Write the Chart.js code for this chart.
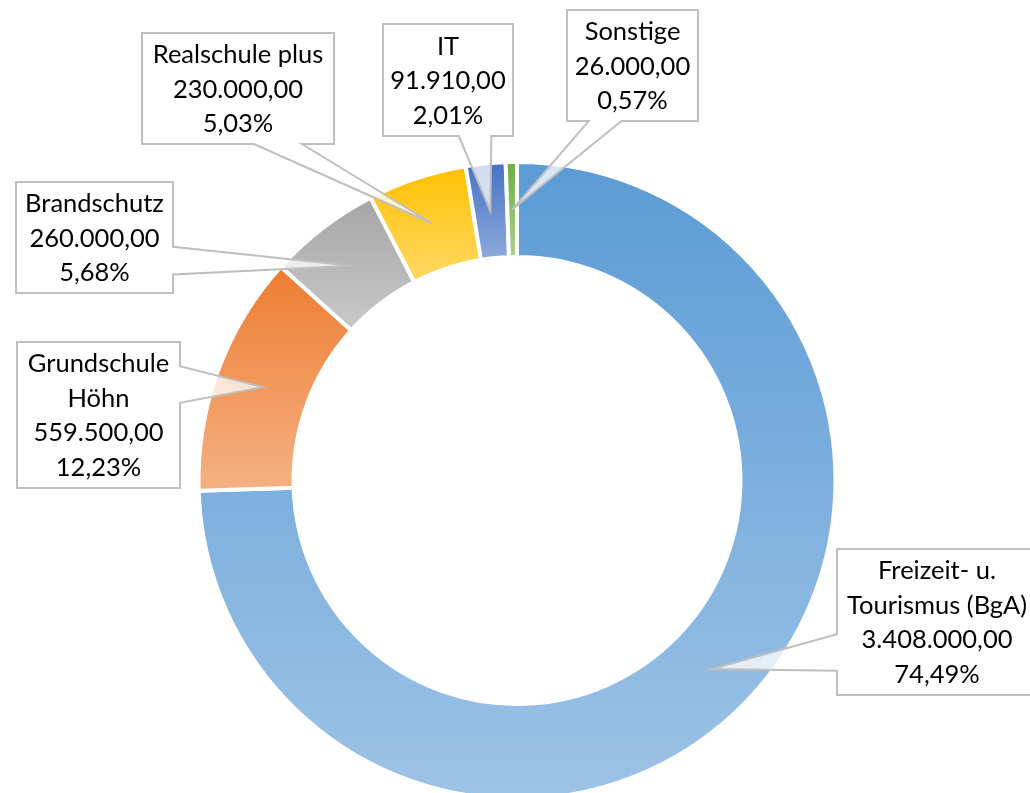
<!DOCTYPE html>
<html>
<head>
<meta charset="utf-8">
<script src="https://cdn.jsdelivr.net/npm/chart.js@4.4.0/dist/chart.umd.min.js"></script>
<style>
  html, body { margin: 0; padding: 0; background: #fff; overflow: hidden; }
  #wrap { width: 1030px; height: 805px; }
</style>
</head>
<body>
<div id="wrap"><canvas id="chart"></canvas></div>
<script>
// Data
const categories = [
  ['Freizeit- u.', 'Tourismus (BgA)'],
  ['Grundschule', 'Höhn'],
  ['Brandschutz'],
  ['Realschule plus'],
  ['IT'],
  ['Sonstige']
];
const values = [3408000, 559500, 260000, 230000, 91910, 26000];
const topColors = ['#5B9BD5', '#ED7D31', '#A5A5A5', '#FFC000', '#4472C4', '#70AD47'];
const bottomColors = ['#9DC3E6', '#F4B183', '#C9C9C9', '#FFD966', '#8FAADC', '#A9D18E'];

// callout boxes (canvas px), same order as the data
const boxes = [
  { x: 837, y: 549, w: 200, h: 146 },
  { x: 17, y: 342, w: 163, h: 146 },
  { x: 16, y: 182, w: 157, h: 111 },
  { x: 142, y: 33, w: 192, h: 111 },
  { x: 383, y: 24, w: 130, h: 112 },
  { x: 567, y: 10, w: 131, h: 111 }
];

const total = values.reduce((a, b) => a + b, 0);

function formatDe(v) {
  const parts = v.toFixed(2).split('.');
  return parts[0].replace(/\B(?=(\d{3})+(?!\d))/g, '.') + ',' + parts[1];
}
function pctDe(v) {
  return (v / total * 100).toFixed(2).replace('.', ',') + '%';
}

// vertical gradient over each segment's own extent
function segmentFill(c) {
  const i = c.dataIndex;
  const chart = c.chart;
  const area = chart.chartArea;
  const ctrl = chart.getDatasetMeta(0).controller;
  if (!area || !ctrl || !ctrl.outerRadius) return topColors[i];
  let before = 0;
  for (let k = 0; k < i; k++) before += values[k];
  const a0 = -Math.PI / 2 + 2 * Math.PI * before / total;
  const a1 = a0 + 2 * Math.PI * values[i] / total;
  const cy = (area.top + area.bottom) / 2;
  let ymin = Infinity, ymax = -Infinity;
  for (let s = 0; s <= 60; s++) {
    const t = a0 + (a1 - a0) * s / 60;
    [ctrl.innerRadius, ctrl.outerRadius].forEach(r => {
      const y = cy + r * Math.sin(t);
      ymin = Math.min(ymin, y);
      ymax = Math.max(ymax, y);
    });
  }
  const g = chart.ctx.createLinearGradient(0, ymin, 0, ymax);
  g.addColorStop(0, topColors[i]);
  g.addColorStop(1, bottomColors[i]);
  return g;
}

// callout boxes with a wedge pointing at each segment
const callouts = {
  id: 'callouts',
  afterDatasetsDraw(chart) {
    const ctx = chart.ctx;
    const meta = chart.getDatasetMeta(0);
    ctx.save();
    meta.data.forEach((arc, i) => {
      const tip = arc.getCenterPoint();
      const b = boxes[i];
      const cx = b.x + b.w / 2, cy = b.y + b.h / 2;
      const nx = (tip.x - cx) / (b.w / 2), ny = (tip.y - cy) / (b.h / 2);
      let side;
      if (Math.abs(nx) > Math.abs(ny)) side = nx > 0 ? 'right' : 'left';
      else side = ny > 0 ? 'bottom' : 'top';
      const alongX = side === 'top' || side === 'bottom';
      const far = alongX ? tip.x > cx : tip.y > cy;
      const f = far ? [7 / 12, 10 / 12] : [2 / 12, 5 / 12];

      ctx.beginPath();
      ctx.moveTo(b.x, b.y);
      if (side === 'top') {
        ctx.lineTo(b.x + f[0] * b.w, b.y);
        ctx.lineTo(tip.x, tip.y);
        ctx.lineTo(b.x + f[1] * b.w, b.y);
      }
      ctx.lineTo(b.x + b.w, b.y);
      if (side === 'right') {
        ctx.lineTo(b.x + b.w, b.y + f[0] * b.h);
        ctx.lineTo(tip.x, tip.y);
        ctx.lineTo(b.x + b.w, b.y + f[1] * b.h);
      }
      ctx.lineTo(b.x + b.w, b.y + b.h);
      if (side === 'bottom') {
        ctx.lineTo(b.x + f[1] * b.w, b.y + b.h);
        ctx.lineTo(tip.x, tip.y);
        ctx.lineTo(b.x + f[0] * b.w, b.y + b.h);
      }
      ctx.lineTo(b.x, b.y + b.h);
      if (side === 'left') {
        ctx.lineTo(b.x, b.y + f[1] * b.h);
        ctx.lineTo(tip.x, tip.y);
        ctx.lineTo(b.x, b.y + f[0] * b.h);
      }
      ctx.closePath();
      ctx.fillStyle = 'rgba(255,255,255,0.75)';
      ctx.fill();
      ctx.lineWidth = 2;
      ctx.strokeStyle = '#BFBFBF';
      ctx.lineJoin = 'miter';
      ctx.stroke();

      const lines = categories[i].concat([formatDe(values[i]), pctDe(values[i])]);
      const lh = 34.5;
      ctx.fillStyle = '#000';
      ctx.font = '25.5px Lato';
      ctx.textAlign = 'center';
      ctx.textBaseline = 'middle';
      lines.forEach((t, k) => {
        ctx.fillText(t, cx, cy + 1 + (k - (lines.length - 1) / 2) * lh);
      });
    });
    ctx.restore();
  }
};

new Chart(document.getElementById('chart'), {
  type: 'doughnut',
  data: {
    labels: categories,
    datasets: [{
      data: values,
      backgroundColor: segmentFill,
      borderColor: '#FFFFFF',
      borderWidth: 4
    }]
  },
  options: {
    responsive: true,
    maintainAspectRatio: false,
    animation: false,
    events: [],
    cutout: '70.17%',
    layout: { padding: { top: 160, bottom: 4, left: 4, right: 0 } },
    plugins: {
      legend: { display: false },
      tooltip: { enabled: false }
    }
  },
  plugins: [callouts]
});
</script>
</body>
</html>
